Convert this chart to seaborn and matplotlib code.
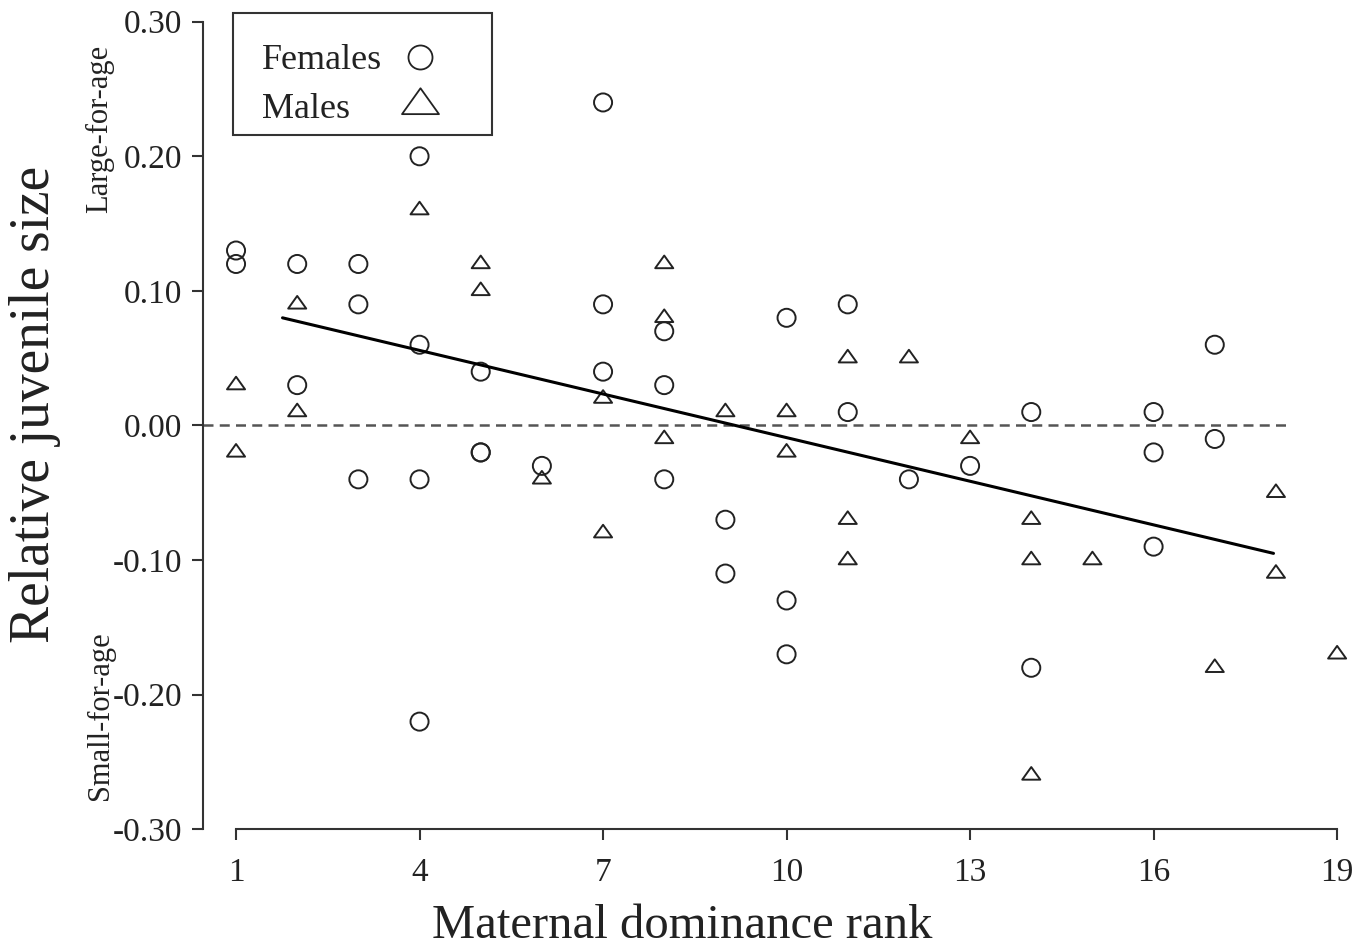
import numpy as np
import pandas as pd
import matplotlib
matplotlib.use("Agg")
import matplotlib.pyplot as plt
import seaborn as sns
from matplotlib.lines import Line2D
from matplotlib.patches import Rectangle
from matplotlib.path import Path
from matplotlib.markers import MarkerStyle

# ---------------- data ----------------
female_rank = [1, 1, 2, 2, 3, 3, 3, 4, 4, 4, 4, 5, 5, 5, 6, 7, 7, 7, 8, 8, 8,
               9, 9, 10, 10, 10, 11, 11, 12, 13, 14, 14, 16, 16, 16, 17, 17]
female_size = [0.13, 0.12, 0.12, 0.03, 0.12, 0.09, -0.04, 0.20, 0.06, -0.04, -0.22,
               0.04, -0.02, -0.02, -0.03, 0.24, 0.09, 0.04, 0.07, 0.03, -0.04,
               -0.07, -0.11, 0.08, -0.13, -0.17, 0.09, 0.01, -0.04, -0.03, 0.01, -0.18,
               0.01, -0.02, -0.09, 0.06, -0.01]

male_rank = [1, 1, 2, 2, 4, 5, 5, 6, 7, 7, 8, 8, 8, 9, 10, 10, 11, 11, 11, 12, 13,
             14, 14, 14, 15, 17, 18, 18, 19]
male_size = [0.03, -0.02, 0.09, 0.01, 0.16, 0.12, 0.10, -0.04, 0.02, -0.08,
             0.12, 0.08, -0.01, 0.01, 0.01, -0.02, 0.05, -0.07, -0.10, 0.05, -0.01,
             -0.07, -0.10, -0.26, -0.10, -0.18, -0.05, -0.11, -0.17]

fit_x = [1.76, 17.96]
fit_y = [0.080, -0.095]

ref_x = [0.46, 18.23]
ref_y = [0.0, 0.0]

x_ticks = [1, 4, 7, 10, 13, 16, 19]
y_ticks = [-0.30, -0.20, -0.10, 0.00, 0.10, 0.20, 0.30]
y_tick_labels = ["-0.30", "-0.20", "-0.10", "0.00", "0.10", "0.20", "0.30"]
legend_labels = ["Females", "Males"]

# ---------------- style ----------------
sns.set_theme(style="ticks")
plt.rcParams["font.family"] = ["Liberation Serif", "DejaVu Serif"]
plt.rcParams["axes.edgecolor"] = "#333333"

W, H = 1372, 948
fig = plt.figure(figsize=(W / 100, H / 100), dpi=100)
fig.patch.set_facecolor("white")


def fx(px):
    return px / W


def fy(py):
    return 1 - py / H


ax = fig.add_axes([fx(203), fy(829.3), 1164.7 / W, 807.6 / H])
ax.set_facecolor("white")

tri_path = Path([(-1, -0.467), (1, -0.467), (0, 0.933), (-1, -0.467)],
                [Path.MOVETO, Path.LINETO, Path.LINETO, Path.CLOSEPOLY])
tri_marker = MarkerStyle(tri_path)

ink = "#222222"

df_f = pd.DataFrame({"rank": female_rank, "size": female_size})
df_m = pd.DataFrame({"rank": male_rank, "size": male_size})

# reference line and fitted line
sns.lineplot(x=ref_x, y=ref_y, ax=ax, color="#555555", linewidth=1.8,
             linestyle=(0, (4, 2.5)), estimator=None, sort=False)
sns.lineplot(x=fit_x, y=fit_y, ax=ax, color="black", linewidth=2.2,
             estimator=None, sort=False)

sns.scatterplot(data=df_f, x="rank", y="size", ax=ax, marker="o", s=169,
                facecolors="none", edgecolor=ink, linewidth=1.4, clip_on=False,
                legend=False)
sns.scatterplot(data=df_m, x="rank", y="size", ax=ax, marker=tri_marker, s=169,
                facecolors="none", edgecolor=ink, linewidth=1.4, clip_on=False,
                legend=False)

ax.set_xlim(0.46, 19.5)
ax.set_ylim(-0.30, 0.30)
sns.despine(ax=ax)
ax.spines["bottom"].set_bounds(1, 19)
ax.spines["left"].set_bounds(-0.30, 0.30)
for s in ("bottom", "left"):
    ax.spines[s].set_linewidth(1.5)
    ax.spines[s].set_color("#333333")

ax.set_xticks(x_ticks)
ax.set_xticklabels([str(t) for t in x_ticks])
ax.set_yticks(y_ticks)
ax.set_yticklabels(y_tick_labels)
ax.tick_params(axis="both", direction="out", length=8, width=1.5,
               color="#333333", labelsize=24, labelcolor=ink)
ax.tick_params(axis="x", pad=12.5)
ax.tick_params(axis="y", pad=7)
ax.set_xlabel("")
ax.set_ylabel("")
ax.grid(False)

# legend: first column holds the labels, second column the symbols
blank = Line2D([], [], linestyle="none", marker=None)
h_f = Line2D([], [], marker="o", markersize=17.3, markerfacecolor="none",
             markeredgecolor=ink, markeredgewidth=1.3, linestyle="none")
h_m = Line2D([], [], marker=tri_marker, markersize=26.6, markerfacecolor="none",
             markeredgecolor=ink, markeredgewidth=1.3, linestyle="none")
leg_fs = 26
leg_px = leg_fs * 100 / 72
handlelen = 1.2
textpad = 0.0
ax.legend([blank, blank, h_f, h_m], legend_labels + ["", ""], ncol=2,
          loc="upper left",
          bbox_to_anchor=(fx(262 - handlelen * leg_px - textpad * leg_px), fy(44)),
          bbox_transform=fig.transFigure,
          frameon=False, borderpad=0, borderaxespad=0, handletextpad=textpad,
          handlelength=handlelen, labelspacing=0.42, fontsize=leg_fs,
          columnspacing=0.45, labelcolor=ink)
fig.add_artist(Rectangle((fx(233), fy(135)), (492 - 233) / W, (135 - 13) / H,
                         transform=fig.transFigure, fill=False,
                         edgecolor="#333333", linewidth=1.5))

# axis titles and annotations
fig.text(fx(682), fy(938), "Maternal dominance rank", ha="center",
         va="baseline", fontsize=35, color=ink)
fig.text(fx(49), fy(404), "Relative juvenile size", rotation=90,
         rotation_mode="anchor", ha="center", va="baseline", fontsize=40,
         color=ink)
fig.text(fx(107), fy(129), "Large-for-age", rotation=90,
         rotation_mode="anchor", ha="center", va="baseline", fontsize=22,
         color=ink)
fig.text(fx(108), fy(716), "Small-for-age", rotation=90,
         rotation_mode="anchor", ha="center", va="baseline", fontsize=22,
         color=ink)

fig.savefig("out.png", dpi=100, facecolor="white")
